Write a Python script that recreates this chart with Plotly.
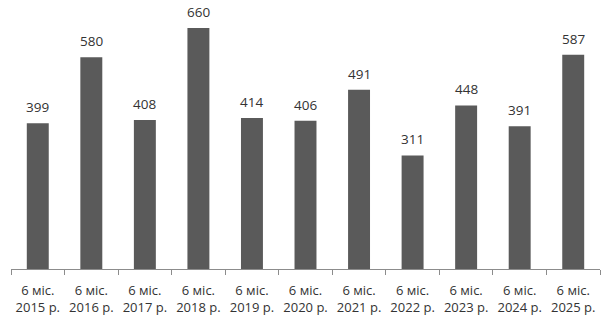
import plotly.graph_objects as go

periods = ["2015", "2016", "2017", "2018", "2019", "2020", "2021", "2022", "2023", "2024", "2025"]
values = [399, 580, 408, 660, 414, 406, 491, 311, 448, 391, 587]
labels = [f"6 міс.<br>{p} р." for p in periods]

fig = go.Figure(go.Bar(
    x=labels, y=values,
    marker=dict(color="#5a5a5a", line=dict(width=0)),
    width=0.41,
    hoverinfo="x+y",
))

for lab, v in zip(labels, values):
    fig.add_annotation(
        x=lab, y=v, text=str(v), showarrow=False,
        yanchor="middle", yshift=16,
        font=dict(size=13.5, color="#333333", family="Open Sans"),
    )

fig.update_layout(
    width=606, height=323,
    margin=dict(l=11, r=6, t=0, b=54),
    plot_bgcolor="white", paper_bgcolor="white",
    showlegend=False,
    font=dict(family="Open Sans", size=13, color="#333333"),
    xaxis=dict(
        type="category",
        showline=True, linecolor="#8c8c8c", linewidth=1,
        ticks="outside", tickson="boundaries", ticklen=5, tickcolor="#8c8c8c",
        ticklabelstandoff=9, tickangle=0, automargin=False,
        tickfont=dict(size=13, color="#333333"),
        showgrid=False,
    ),
    yaxis=dict(range=[0, 737], visible=False, showgrid=False, automargin=False),
)

fig.write_html("out.html")
